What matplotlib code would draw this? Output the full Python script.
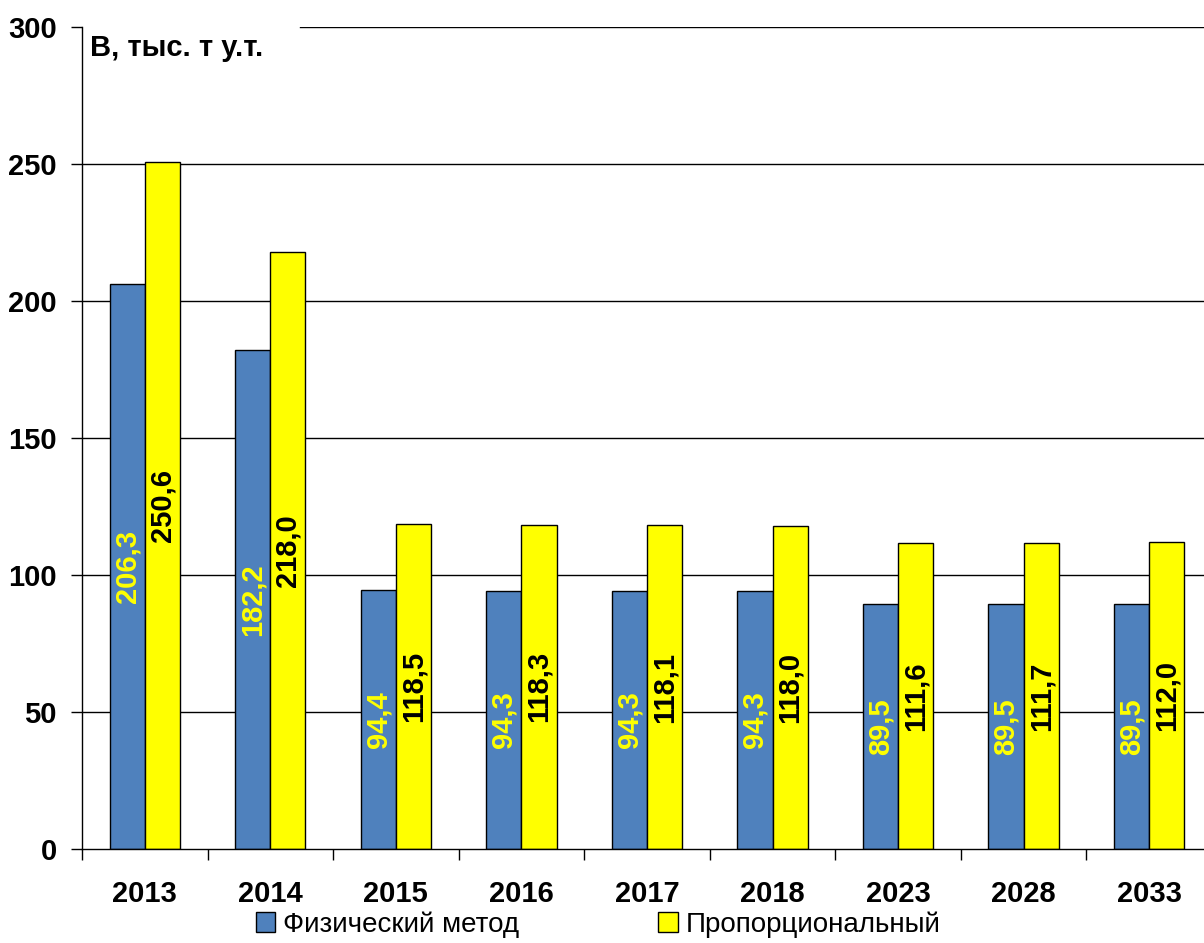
import numpy as np
import matplotlib.pyplot as plt

plt.rcParams['font.family'] = ['Liberation Sans', 'DejaVu Sans']

# Годы и значения по двум методам (тыс. т у.т.)
years = ['2013', '2014', '2015', '2016', '2017', '2018', '2023', '2028', '2033']
physical = [206.3, 182.2, 94.4, 94.3, 94.3, 94.3, 89.5, 89.5, 89.5]
proportional = [250.6, 218.0, 118.5, 118.3, 118.1, 118.0, 111.6, 111.7, 112.0]
yticks = [0, 50, 100, 150, 200, 250, 300]

blue = '#4F81BD'
yellow = '#FFFF00'

fig = plt.figure(figsize=(12.04, 9.43), dpi=100)
ax = fig.add_axes([0.0681, 0.0997, 0.9385, 0.8717])

x = np.arange(len(years))
w = 0.28

# Горизонтальные линии сетки; верхняя начинается правее подписи
for yv in yticks[1:]:
    xmin = 0.193 if yv == yticks[-1] else 0
    ax.axhline(yv, xmin=xmin, color='black', linewidth=1.0, zorder=1)

b1 = ax.bar(x - w / 2, physical, w, color=blue, edgecolor='black',
            linewidth=1.0, zorder=2, label='Физический метод')
b2 = ax.bar(x + w / 2, proportional, w, color=yellow, edgecolor='black',
            linewidth=1.0, zorder=2, label='Пропорциональный')

def fmt(v):
    return f'{v:.1f}'.replace('.', ',')

for xi, v in zip(x, physical):
    ax.text(xi - w / 2, v / 2, fmt(v), rotation=90, ha='center', va='center',
            color=yellow, fontsize=21, fontweight='bold', zorder=3)
for xi, v in zip(x, proportional):
    ax.text(xi + w / 2, v / 2, fmt(v), rotation=90, ha='center', va='center',
            color='black', fontsize=21, fontweight='bold', zorder=3)

ax.set_xlim(-0.5, len(years) - 0.5)
ax.set_ylim(0, 300)
ax.set_yticks(yticks)
ax.set_xticks(x)
ax.set_xticklabels(years)
ax.set_xticks(np.arange(len(years) + 1) - 0.5, minor=True)

ax.tick_params(axis='x', which='major', length=0, pad=22, labelsize=21)
ax.tick_params(axis='x', which='minor', length=8, width=1, direction='out')
ax.tick_params(axis='y', length=8, width=1, direction='out', pad=10, labelsize=21)
for lbl in ax.get_xticklabels() + ax.get_yticklabels():
    lbl.set_fontweight('bold')

for side in ['top', 'right']:
    ax.spines[side].set_visible(False)
ax.spines['left'].set_linewidth(1.0)
ax.spines['bottom'].set_linewidth(1.0)

ax.text(0.007, 0.992, 'В, тыс. т у.т.', transform=ax.transAxes, ha='left',
        va='top', fontsize=21, fontweight='bold', zorder=4)

fig.legend(handles=[b1, b2], loc='lower center', bbox_to_anchor=(0.497, -0.021),
           ncol=2, frameon=False, fontsize=20, handlelength=0.7,
           handleheight=0.7, handletextpad=0.3, columnspacing=5.0)

fig.savefig('out.png', dpi=100)
